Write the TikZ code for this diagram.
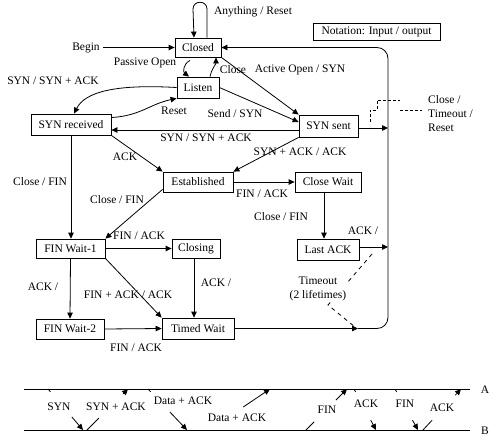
\documentclass[tikz,border=0pt]{standalone}
\usepackage{fontspec}
\setmainfont{Liberation Serif}
\usetikzlibrary{arrows.meta,calc}
\begin{document}
\begin{tikzpicture}[x=1pt,y=-1pt,
  every node/.style={font=\fontsize{11.5}{14}\selectfont, inner sep=1pt},
  box/.style={draw, line width=0.8pt, inner sep=0pt, minimum height=20pt},
  conn/.style={line width=0.8pt},
  arr/.style={conn, -{Triangle[length=6pt,width=5.5pt]}},
  dsh/.style={line width=0.8pt, dash pattern=on 3pt off 2pt},
  dshl/.style={line width=0.8pt, dash pattern=on 4pt off 4pt},
]
\useasboundingbox (0,0) rectangle (498,442);

% states
\node[box, minimum width=46pt, minimum height=19pt] (closed) at (198,47.5) {Closed};
\node[box, minimum width=42pt, minimum height=21pt] (listen) at (198,87.5) {Listen};
\node[box, minimum width=80pt, minimum height=21pt] (synrcvd) at (71,124.5) {SYN received};
\node[box, minimum width=59pt, minimum height=22pt] (synsent) at (328.5,126) {SYN sent};
\node[box, minimum width=70pt, minimum height=20pt] (estab) at (198,182) {Established};
\node[box, minimum width=66pt, minimum height=20pt] (closewait) at (328,182) {Close Wait};
\node[box, minimum width=62pt, minimum height=21pt] (lastack) at (328,249.5) {Last ACK};
\node[box, minimum width=69pt, minimum height=19pt] (finw1) at (70.5,248.5) {FIN Wait-1};
\node[box, minimum width=48pt, minimum height=19pt] (closing) at (196,248.5) {Closing};
\node[box, minimum width=68pt, minimum height=20pt] (finw2) at (70,329) {FIN Wait-2};
\node[box, minimum width=72pt, minimum height=21pt] (timed) at (198,328.5) {Timed Wait};
\node[box, minimum width=127pt, minimum height=17pt] (notation) at (376.5,32) {Notation: Input / output};

% Closed self loop
\draw[arr] ([xshift=9pt]closed.north) -- (207,9) .. controls (207,0) and (193,0) .. (193,9) -- ([xshift=-4pt]closed.north);
\node (lany) at (253,12) {Anything / Reset};

% Begin
\node (begin) at (86,47.5) {Begin};
\draw[arr] ([xshift=2pt]begin.east) -- (closed.west);

% Passive open
\draw[arr] ([xshift=-8pt,yshift=-3pt]closed.south) .. controls (183,64) and (183,72) .. ([xshift=-9pt]listen.north);
\node (lpo) at (145,63) {Passive Open};

% Close (listen -> closed)
\draw[arr] ([xshift=12pt]listen.north) .. controls (211,70) and (216,64) .. ([xshift=18pt]closed.south);
\node (lcl) at (233,70) {Close};

% Active open
\draw[arr] (closed.south east) -- (synsent.north west);
\node (lao) at (300,70) {Active Open / SYN};

% Send / SYN
\draw[arr] (listen.east) -- ([yshift=4pt]synsent.west);
\node (lsend) at (235,114) {Send / SYN};

% SYN / SYN+ACK (listen -> syn received)
\draw[arr] (listen.west) .. controls (115,84) and (85,92) .. ([xshift=3pt]synrcvd.north);
\node (lsyn1) at (53,81) {SYN / SYN + ACK};

% Reset
\draw[arr] ([yshift=7pt]synrcvd.east) .. controls (140,116) and (150,104) .. (listen.south west);
\node (lreset) at (174,111) {Reset};

% SYN sent -> SYN received
\draw[arr] (synsent.west |- 0,130) -- (synrcvd.east |- 0,130);
\node (lsyn2) at (206,138) {SYN / SYN + ACK};

% ACK
\draw[arr] (synrcvd.south east) -- (estab.north west);
\node (lack1) at (125,157) {ACK};

% SYN+ACK / ACK
\draw[arr] (synsent.south west) -- (estab.north east);
\node (lsa) at (300,152) {SYN + ACK / ACK};

% FIN / ACK established -> close wait
\draw[arr] (estab.east) -- (closewait.west);
\node (lfa1) at (262,194) {FIN / ACK};

% Close / FIN (syn received -> fin wait 1)
\draw[arr] (synrcvd.south) -- (synrcvd.south |- finw1.north);
\node (lcf1) at (40,182) {Close / FIN};

% Close / FIN (established -> fin wait 1)
\draw[arr] ([yshift=3pt]estab.south west) -- (finw1.north east);
\node (lcf2) at (117,200) {Close / FIN};

% Close / FIN (close wait -> last ack)
\draw[arr] ([xshift=-4pt]closewait.south) -- ([xshift=-4pt]closewait.south |- lastack.north);
\node (lcf3) at (281,217) {Close / FIN};

% right rail
\coordinate (rs) at (388,128);
\coordinate (rl) at (388,247);
\coordinate (tw) at (358,328.5);
\draw[arr] (synsent.east |- rs) -- (rs);
\draw[arr] (lastack.east |- rl) -- (rl);
\node (lacklast) at (363,231) {ACK /};

% FIN / ACK (fin wait 1 -> closing)
\draw[arr] (finw1.east) -- (closing.west);
\node (lfa2) at (139,236) {FIN / ACK};

% ACK / (fin wait 1 -> fin wait 2)
\draw[arr] (finw1.south) -- (finw2.north);
\node (lack2) at (43,287) {ACK /};

% FIN + ACK / ACK
\draw[arr] (finw1.south east) -- (timed.north west);
\node (lfaa) at (128,295) {FIN + ACK / ACK};

% ACK / (closing -> timed wait)
\draw[arr] ([xshift=-2pt]closing.south) -- ([xshift=-2pt]closing.south |- timed.north);
\node (lack3) at (216,283) {ACK /};

% FIN / ACK (fin wait 2 -> timed wait)
\draw[arr] (finw2.east) -- (timed.west);
\node (lfa3) at (136,348) {FIN / ACK};

% timed wait -> loop back to closed
\draw[arr] (timed.east) -- (tw);
\draw[arr, rounded corners=11pt] (tw) -- (388,328.5) -- (388,47.5) -- (closed.east);

% timeout dashed
\draw[dshl] (372,254) -- (328,305) -- (355,327);
\node[fill=white, align=center] (ltmo) at (318,289) {Timeout\\(2 lifetimes)};

% dashed step and legend
\draw[dsh] (370,122) -- (370,110) -- (377,110) -- (377,100) -- (400,100);
\draw[dsh] (400,110) -- (422,110);
\node[align=left, anchor=west] (legend) at (427,114) {Close /\\Timeout /\\Reset};

% timeline
\coordinate (A0) at (24,389); \coordinate (A1) at (470,389);
\coordinate (B0) at (24,430); \coordinate (B1) at (470,430);
\draw[conn] (A0) -- (A1);
\draw[conn] (B0) -- (B1);
\node (labA) at (485,390) {A};
\node (labB) at (485,431) {B};

\foreach \i/\ax/\ay/\bx/\by/\ta/\tb/\lx/\ly/\txt in {
  1/48/389/83/430/0.07/0.68/59/407/SYN,
  2/87/430/128/389/0.29/0.88/116/407/SYN + ACK,
  3/148/389/187/430/0.07/0.56/183/401/Data + ACK,
  4/209/430/270/389/0.0/0.56/237/418/Data + ACK,
  5/306/430/347/389/0.2/0.73/327/410/FIN,
  6/354/389/376/430/0.07/0.76/366/404/ACK,
  7/395/389/418/430/0.07/0.76/405/404/FIN,
  8/423/430/461/389/0.24/0.85/442/408/ACK}{
  \coordinate (m\i a) at (\ax,\ay);
  \coordinate (m\i b) at (\bx,\by);
  \draw[conn] (m\i a) -- ($(m\i a)!\ta!(m\i b)$);
  \draw[arr] ($(m\i a)!\tb!(m\i b)$) -- (m\i b);
  \node (ml\i) at (\lx,\ly) {\txt};
}
\end{tikzpicture}
\end{document}
